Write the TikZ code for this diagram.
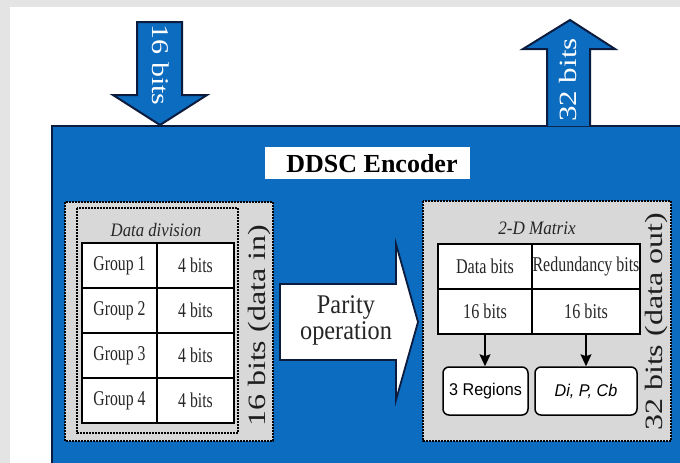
\documentclass[tikz,border=0pt]{standalone}
\usepackage{fontspec}
\usepackage{graphicx}
\setmainfont{Liberation Serif}
\newfontfamily\arialf{Liberation Sans}
\usetikzlibrary{arrows.meta}
\definecolor{encblue}{RGB}{12,108,192}
\definecolor{navyline}{RGB}{12,28,62}
\definecolor{boxgray}{RGB}{216,216,216}
\definecolor{edgegray}{RGB}{228,228,228}
\definecolor{labeldark}{RGB}{30,30,30}
\newcommand{\fs}[1]{\fontsize{#1}{#1}\selectfont}
\newcommand{\sx}[2]{\scalebox{#1}[1]{#2}}
\newcommand{\sy}[2]{\scalebox{1}[#1]{#2}}
\begin{document}
\begin{tikzpicture}[x=1pt,y=-1pt,
  cellbox/.style={draw=black, line width=1.6pt, fill=white, inner sep=0pt},
  dotbox/.style={draw=black, line width=2pt, dash pattern=on 1.6pt off 1.4pt},
  roundbox/.style={draw=black, line width=1.5pt, fill=white, rounded corners=6pt, inner sep=0pt},
  bigarrow/.style={fill=encblue, draw=navyline, line width=2pt, line join=miter},
  tabtext/.style={font=\fs{21}, text=black!85},
]
\useasboundingbox (0,0) rectangle (680,463);
% page background
\fill[edgegray] (0,0) rectangle (680,463);
\fill[white] (10,7) rectangle (680,463);

% encoder body
\fill[encblue] (52,126) rectangle (680,463);
\draw[navyline, line width=1.6pt] (52,463) -- (52,126) -- (680,126);

% input / output arrows
\draw[bigarrow] (137,22) -- (182,22) -- (182,95) -- (207,95) -- (160,125) -- (113,95) -- (137,95) -- cycle;
\node[rotate=-90, text=white, font=\fs{30}] (inlbl) at (161,65) {\sy{0.8}{16 bits}};
\draw[bigarrow] (547,126) -- (547,49) -- (523,49) -- (570,20) -- (615,49) -- (590,49) -- (590,126);
\node[rotate=90, text=white, font=\fs{31}] (outlbl) at (568,80) {\sy{0.8}{32 bits}};

% title
\node[fill=white, minimum width=205pt, minimum height=32pt, inner sep=0pt] (title) at (367.5,163) {};
\node[font=\fs{26}\bfseries, anchor=center] (titletext) at (372,164) {DDSC Encoder};

% left block: data division
\draw[dotbox, fill=boxgray] (65,202) rectangle (273,441);
\draw[dotbox] (77,208) rectangle (238,433);
\node[font=\fs{19}\itshape, text=black!85] (ddiv) at (156,230) {\sx{0.88}{Data division}};
\foreach \i/\yc in {1/265.5,2/310.5,3/355.5,4/400.5}{
  \node[cellbox, minimum width=75pt, minimum height=45pt, tabtext] (g\i) at (119.5,\yc) {\sx{0.75}{Group \i}};
  \node[cellbox, minimum width=77pt, minimum height=45pt, tabtext] (b\i) at (195.5,\yc) {\sx{0.75}{4 bits}};
}
\node[rotate=90, text=labeldark, font=\fs{32}] (inlabel) at (259,326) {\sy{0.78}{16 bits (data in)}};

% parity operation arrow
\draw[fill=white, draw=navyline, line width=1.8pt, line join=miter]
  (280,284) -- (396,284) -- (396,244) -- (418,322) -- (396,400) -- (396,360) -- (280,360) -- cycle;
\node[font=\fs{27}, align=center, text=black!85] (parity) at (346,320)
  {\sx{0.9}{Parity}\\[-1pt]\sx{0.9}{operation}};

% right block: 2-D matrix
\draw[dotbox, fill=boxgray] (423,201) rectangle (671,441);
\node[font=\fs{19}\itshape, text=black!85] (mtx) at (537,228) {\sx{0.9}{2-D Matrix}};
\node[cellbox, minimum width=94pt, minimum height=45pt, tabtext] (dbits) at (485,266.5) {\sx{0.77}{Data bits}};
\node[cellbox, minimum width=108pt, minimum height=45pt, tabtext] (rbits) at (586,266.5) {\sx{0.76}{Redundancy bits}};
\node[cellbox, minimum width=94pt, minimum height=45pt, tabtext] (d16) at (485,311.5) {\sx{0.77}{16 bits}};
\node[cellbox, minimum width=108pt, minimum height=45pt, tabtext] (r16) at (586,311.5) {\sx{0.77}{16 bits}};
\node[roundbox, minimum width=85pt, minimum height=48pt, font=\arialf\fs{17}] (regions) at (485.5,391) {\sx{0.95}{3 Regions}};
\node[roundbox, minimum width=102pt, minimum height=48pt, font=\arialf\itshape\fs{17}] (dipcb) at (586,391) {\sx{0.95}{Di, P, Cb}};
\draw[line width=1.4pt, -{Stealth[length=12pt, width=11pt, inset=2pt]}] (d16.south) -- (d16.south |- regions.north);
\draw[line width=1.4pt, -{Stealth[length=12pt, width=11pt, inset=2pt]}] (r16.south) -- (r16.south |- dipcb.north);
\node[rotate=90, text=labeldark, font=\fs{32}] (outlabel) at (656,322) {\sy{0.78}{32 bits (data out)}};
\end{tikzpicture}
\end{document}
